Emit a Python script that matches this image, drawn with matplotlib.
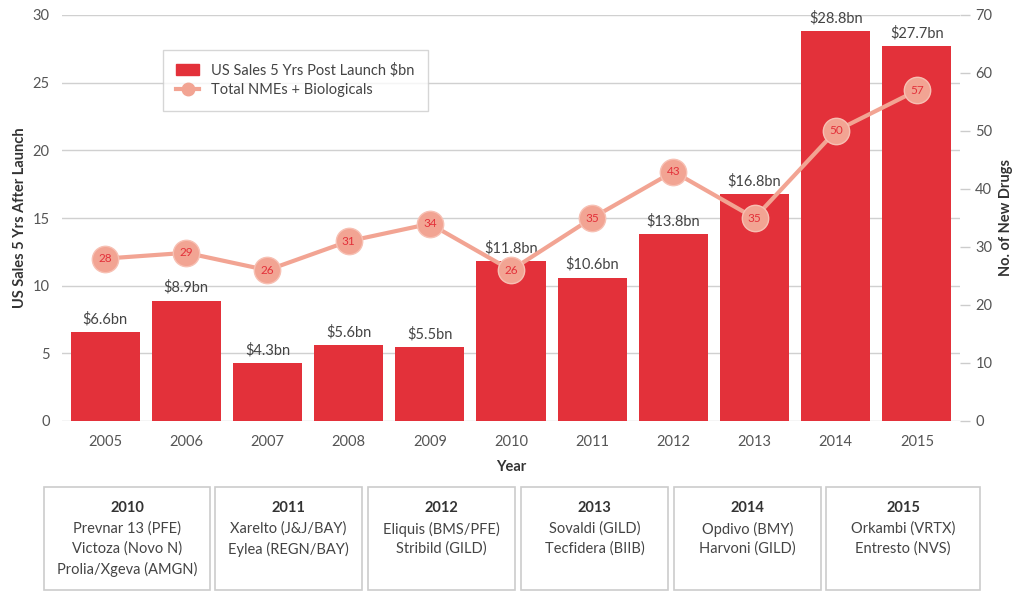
import matplotlib
matplotlib.use('Agg')
import matplotlib.pyplot as plt
from matplotlib.patches import Rectangle
from matplotlib.lines import Line2D
import numpy as np

plt.rcParams['font.family'] = ['Lato', 'DejaVu Sans']

years = ['2005', '2006', '2007', '2008', '2009', '2010', '2011', '2012', '2013', '2014', '2015']
sales = [6.6, 8.9, 4.3, 5.6, 5.5, 11.8, 10.6, 13.8, 16.8, 28.8, 27.7]
new_drugs = [28, 29, 26, 31, 34, 26, 35, 43, 35, 50, 57]

box_years = ['2010', '2011', '2012', '2013', '2014', '2015']
box_drugs = [
    ['Prevnar 13 (PFE)', 'Victoza (Novo N)', 'Prolia/Xgeva (AMGN)'],
    ['Xarelto (J&J/BAY)', 'Eylea (REGN/BAY)'],
    ['Eliquis (BMS/PFE)', 'Stribild (GILD)'],
    ['Sovaldi (GILD)', 'Tecfidera (BIIB)'],
    ['Opdivo (BMY)', 'Harvoni (GILD)'],
    ['Orkambi (VRTX)', 'Entresto (NVS)'],
]

bar_color = '#E3313A'
line_color = '#F2A493'
gray = '#555555'

W, H = 1023, 592
fig = plt.figure(figsize=(W / 100, H / 100), dpi=100)
ax = fig.add_axes([62 / W, 1 - 421 / H, (960 - 62) / W, (421 - 15) / H])

x = np.arange(len(years))
ax.bar(x, sales, width=0.85, color=bar_color, zorder=2)
for xi, v in zip(x, sales):
    ax.annotate(f'${v}bn', (xi, v), xytext=(0, 4), textcoords='offset points',
                ha='center', va='bottom', fontsize=10.5, color='#444444')

ax.set_xlim(-0.53, 10.53)
ax.set_ylim(0, 30)
ax.set_yticks(range(0, 31, 5))
ax.set_xticks(x)
ax.set_xticklabels(years)
ax.grid(axis='y', color='#d0d0d0', linewidth=1, zorder=0)
ax.set_axisbelow(True)
for s in ax.spines.values():
    s.set_visible(False)
ax.tick_params(axis='y', length=0, pad=9, labelsize=10.5, labelcolor=gray)
ax.tick_params(axis='x', length=0, pad=10, labelsize=10.5, labelcolor=gray)
ax.set_xlabel('Year', fontsize=10.5, fontweight='bold', color='#333333', labelpad=8)
ax.set_ylabel('US Sales 5 Yrs After Launch', fontsize=10.5, fontweight='bold', color='#333333', labelpad=4)

ax2 = ax.twinx()
ax2.plot(x, new_drugs, color=line_color, linewidth=3, marker='o', markersize=19,
         markerfacecolor=line_color, markeredgecolor='#f7c0b3', markeredgewidth=1, zorder=3)
for xi, v in zip(x, new_drugs):
    ax2.text(xi, v, str(v), ha='center', va='center', fontsize=8.5, color=bar_color, zorder=4)
ax2.set_ylim(0, 70)
ax2.set_yticks(range(0, 71, 10))
for s in ax2.spines.values():
    s.set_visible(False)
ax2.tick_params(axis='y', length=7, width=1, color='#cccccc', pad=4, labelsize=10.5, labelcolor=gray)
ax2.set_ylabel('No. of New Drugs', fontsize=10.5, fontweight='bold', color='#333333', labelpad=5)

handles = [
    Rectangle((0, 0), 1, 1, color=bar_color),
    Line2D([], [], color=line_color, linewidth=3, marker='o', markersize=9),
]
leg = fig.legend(handles, ['US Sales 5 Yrs Post Launch $bn', 'Total NMEs + Biologicals'],
                 loc='upper left', bbox_to_anchor=(163 / W, 1 - 50 / H), fontsize=10.5,
                 frameon=True, fancybox=False, edgecolor='#cccccc', borderpad=0.9,
                 handlelength=1.6, labelspacing=0.4, borderaxespad=0)
leg.get_frame().set_linewidth(1)
for t in leg.get_texts():
    t.set_color('#444444')

# drug boxes under the chart
box_edges = [(44, 210), (215, 362), (368, 515), (521, 668), (674, 821), (826, 980)]
top, bottom = 487, 590
for (x0, x1), yr, drugs in zip(box_edges, box_years, box_drugs):
    fig.patches.append(Rectangle((x0 / W, 1 - bottom / H), (x1 - x0) / W, (bottom - top) / H,
                                 transform=fig.transFigure, fill=False,
                                 edgecolor='#cccccc', linewidth=1.2))
    cx = (x0 + x1) / 2 / W
    fig.text(cx, 1 - 508 / H, yr, ha='center', va='center', fontsize=10.5,
             fontweight='bold', color='#333333')
    for i, d in enumerate(drugs):
        fig.text(cx, 1 - (529 + 20 * i) / H, d, ha='center', va='center',
                 fontsize=10.5, color='#444444')

fig.savefig('out.png', dpi=100)
